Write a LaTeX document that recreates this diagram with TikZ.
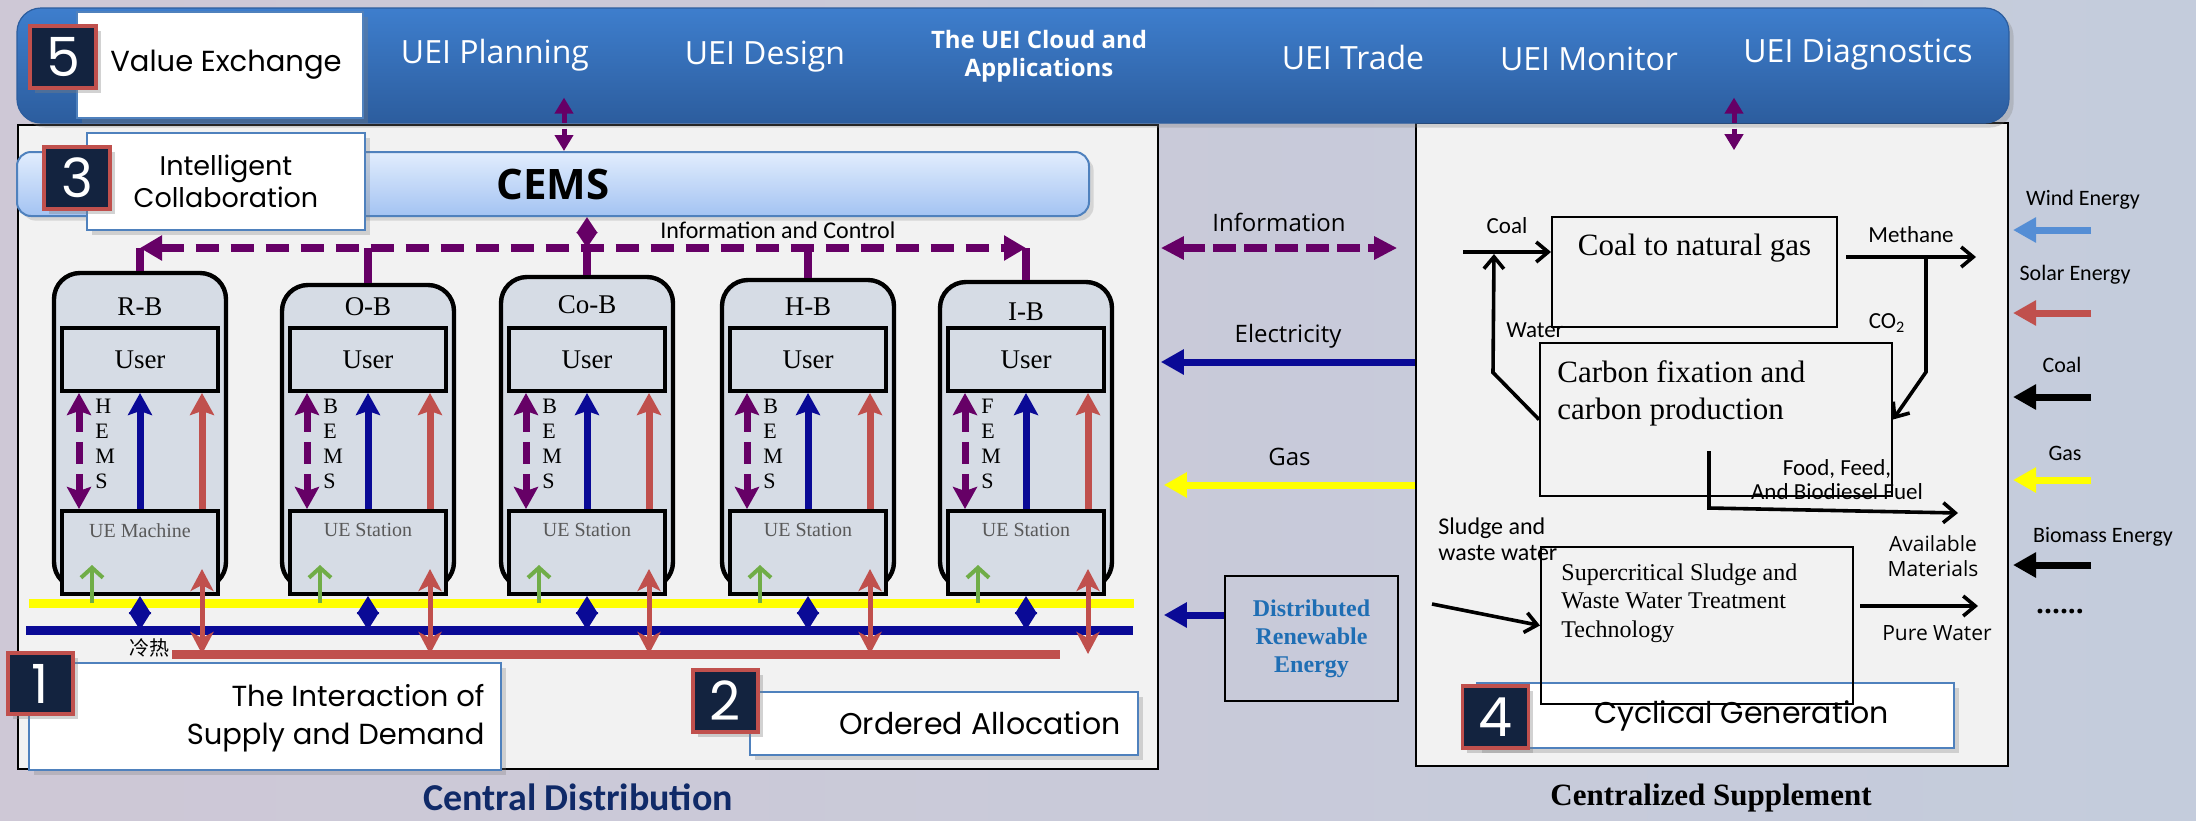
\documentclass[tikz,border=0pt]{standalone}
\usepackage{fontspec}
\setmainfont{Liberation Serif}
\newfontfamily\opens{Open Sans}
\newfontfamily\calib{Carlito}
\newfontfamily\gothic{Poppins}
\newfontfamily\cjkfont{Noto Sans CJK SC}
\usetikzlibrary{arrows.meta,shadows}

\definecolor{bgleft}{RGB}{206,200,214}
\definecolor{bgright}{RGB}{196,204,220}
\definecolor{bartop}{RGB}{62,126,205}
\definecolor{barbot}{RGB}{44,93,158}
\definecolor{panelgray}{RGB}{242,242,242}
\definecolor{cemstop}{RGB}{226,237,253}
\definecolor{cemsbot}{RGB}{163,195,242}
\definecolor{tagblue}{RGB}{79,129,189}
\definecolor{numnavy}{RGB}{19,35,63}
\definecolor{numred}{RGB}{192,80,77}
\definecolor{ctlpurple}{RGB}{102,0,102}
\definecolor{elecblue}{RGB}{10,10,150}
\definecolor{heatred}{RGB}{192,80,77}
\definecolor{gasyellow}{RGB}{255,255,0}
\definecolor{coldgreen}{RGB}{112,173,71}
\definecolor{bldgfill}{RGB}{214,220,229}
\definecolor{uegray}{RGB}{89,89,89}
\definecolor{windblue}{RGB}{85,142,213}
\definecolor{dretext}{RGB}{31,110,180}
\definecolor{cdnavy}{RGB}{16,42,104}

\tikzset{
  panel/.style={draw=black, line width=0.8pt, fill=panelgray, inner sep=0},
  topbar/.style={draw=barbot, line width=0.6pt, top color=bartop, bottom color=barbot,
    rounded corners=12pt, minimum width=996pt, minimum height=57.5pt, inner sep=0,
    drop shadow={opacity=0.3}},
  cemsbar/.style={draw=tagblue, line width=1pt, top color=cemstop, bottom color=cemsbot,
    rounded corners=7pt, minimum width=536pt, minimum height=32pt, inner sep=0,
    font=\opens\bfseries\fontsize{21}{21}\selectfont, drop shadow={opacity=0.25}},
  bartext/.style={text=white, font=\opens\fontsize{16}{18}\selectfont, inner sep=0},
  numbox/.style={draw=numred, line width=1.8pt, fill=numnavy, text=white, inner sep=0,
    font=\gothic\fontsize{27}{27}\selectfont, minimum width=33pt, minimum height=31pt,
    drop shadow={opacity=0.35}},
  tagbox/.style={draw=tagblue, line width=0.8pt, fill=white, inner sep=0,
    drop shadow={opacity=0.3}},
  tagtext/.style={font=\gothic\fontsize{14.5}{19}\selectfont, inner sep=0},
  bldg/.style={draw=black, line width=2.2pt, fill=bldgfill, rounded corners=13pt,
    minimum width=86pt, inner sep=0},
  userbox/.style={draw=black, line width=2pt, fill=bldgfill, minimum width=78pt,
    minimum height=31.5pt, inner sep=0, font=\fontsize{13.5}{15}\selectfont},
  uebox/.style={draw=black, line width=2pt, fill=bldgfill, minimum width=78pt,
    minimum height=41.5pt, inner sep=0},
  uetext/.style={text=uegray, font=\fontsize{10}{11}\selectfont, inner sep=0},
  bname/.style={font=\fontsize{13.5}{15}\selectfont, inner sep=0},
  emstext/.style={font=\fontsize{11}{12.5}\selectfont, align=left, inner sep=0},
  emsarrow/.style={draw=ctlpurple, line width=3.5pt, dash pattern=on 11pt off 5pt,
    >={Stealth[length=11pt,width=12pt,inset=2pt]}, <->},
  elecup/.style={draw=elecblue, line width=3.5pt, -{Stealth[length=11pt,width=12pt,inset=2pt]}},
  heatup/.style={draw=heatred, line width=3.5pt, -{Stealth[length=11pt,width=12pt,inset=2pt]}},
  gasbus/.style={draw=gasyellow, line width=4.5pt},
  elecbus/.style={draw=elecblue, line width=4.5pt},
  heatbus/.style={draw=heatred, line width=4.5pt},
  greenarrow/.style={draw=coldgreen, line width=2pt, -{Straight Barb[length=5pt,width=11pt]}},
  diam/.style={draw=elecblue, line width=1pt, >={Triangle[length=9pt,width=11pt]}, <->},
  heatboth/.style={draw=heatred, line width=2.5pt,
    >={Stealth[length=11pt,width=11.5pt,inset=3pt]}, <->},
  ctlstub/.style={draw=ctlpurple, line width=4pt},
  ctlline/.style={draw=ctlpurple, line width=4pt, dash pattern=on 11.5pt off 6pt,
    >={Triangle[length=11pt,width=12pt]}, <->},
  ctlboth/.style={draw=ctlpurple, line width=3.5pt, >={Triangle[length=8pt,width=10pt]}, <->},
  ctltext/.style={font=\calib\fontsize{12}{12}\selectfont, inner sep=0},
  smallinfo/.style={draw=ctlpurple, line width=2.5pt, dash pattern=on 5pt off 3pt,
    >={Triangle[length=8pt,width=9pt]}, <->},
  infoboth/.style={draw=ctlpurple, line width=4pt, dash pattern=on 11.5pt off 4pt,
    >={Triangle[length=11.5pt,width=11pt]}, <->},
  elecarrow/.style={draw=elecblue, line width=3.5pt, -{Triangle[length=11.5pt,width=12pt]}},
  gasarrow/.style={draw=gasyellow, line width=3.5pt, -{Triangle[length=11.5pt,width=12pt]}},
  midtext/.style={font=\opens\fontsize{12}{12}\selectfont, inner sep=0},
  drebox/.style={draw=black, line width=1pt, minimum width=86.5pt, minimum height=62.5pt,
    inner sep=0, align=center, text=dretext, font=\bfseries\fontsize{12}{14}\selectfont},
  procbox/.style={draw=black, line width=1pt, inner sep=0},
  proctext/.style={font=\fontsize{15.5}{18.5}\selectfont, inner sep=0},
  flow/.style={draw=black, line width=1.8pt, -{Straight Barb[length=6pt,width=10pt]}},
  flowtext/.style={font=\calib\fontsize{11.5}{12}\selectfont, inner sep=0},
  optext/.style={font=\opens\fontsize{10.5}{12.5}\selectfont, inner sep=0},
  legarrow/.style={line width=3.5pt, -{Triangle[length=11.5pt,width=12pt]}},
  legtext/.style={font=\calib\fontsize{11}{12}\selectfont, inner sep=0},
  cdtitle/.style={text=cdnavy, font=\calib\bfseries\fontsize{19}{19}\selectfont, inner sep=0},
  cstitle/.style={font=\bfseries\fontsize{15.5}{16}\selectfont, inner sep=0},
}

\begin{document}
\begin{tikzpicture}[x=0.5pt,y=-0.5pt]
  \useasboundingbox (0,0) rectangle (2196,820);
  \shade[left color=bgleft, right color=bgright] (0,0) rectangle (2196,820);

  % the two panels
  \node[panel, minimum width=570pt, minimum height=322pt] (lpanel) at (588,447) {};
  \node[panel, minimum width=296pt, minimum height=321.5pt] (rpanel) at (1712,444.5) {};

  % top bar
  \node[topbar] (bar) at (1013,65.5) {};
  \node[tagbox, tagtext, minimum width=143pt, minimum height=53pt] (vx) at (220,65) {\hspace*{6pt}Value Exchange};
  \node[numbox] (n5) at (63,57) {5};
  \node[bartext] (plan) at (495,55) {UEI Planning};
  \node[bartext] (design) at (765,57) {UEI Design};
  \node[bartext, align=center, font=\opens\bfseries\fontsize{12}{14}\selectfont] (cloud) at (1039,56) {The UEI Cloud and\\Applications};
  \node[bartext] (trade) at (1353,57) {UEI Trade};
  \node[bartext] (monitor) at (1589,59) {UEI Monitor};
  \node[bartext] (diag) at (1858,55) {UEI Diagnostics};

  % CEMS
  \node[cemsbar] (cems) at (553,184) {CEMS};
  \node[tagbox, tagtext, align=center, font=\gothic\fontsize{13.5}{16}\selectfont,
    minimum width=139pt, minimum height=48.5pt] (ic) at (226,181.5) {Intelligent\\Collaboration};
  \node[numbox] (n3) at (77,178) {3};

  % buses
  \coordinate (gasW) at (29,603);  \coordinate (gasE) at (1134,603);
  \coordinate (elecW) at (26,630); \coordinate (elecE) at (1133,630);
  \coordinate (heatW) at (172,654); \coordinate (heatE) at (1060,654);
  \draw[gasbus] (gasW) -- (gasE);
  \draw[elecbus] (elecW) -- (elecE);
  \draw[heatbus] (heatW) -- (heatE);
  \node[font=\cjkfont\fontsize{10}{10}\selectfont, inner sep=0, anchor=east] (coldheat) at (170,648) {冷热};

  % buildings
  \foreach \bx/\by/\ly/\lab/\ems/\ue [count=\i] in
    {54/273/307/R-B/H/UE Machine, 282/285/307/O-B/B/UE Station, 501/277/305/Co-B/B/UE Station,
     722/280/307/H-B/B/UE Station, 940/282/312/I-B/F/UE Station} {
    \node[bldg, minimum height={(588-\by)*0.5pt}] (b\i) at ({\bx+86},{(\by+588)/2}) {};
    \node[bname] (lb\i) at ({\bx+86},\ly) {\lab};
    \node[userbox] (u\i) at ({\bx+86},359.5) {User};
    \node[uebox, label={[uetext,anchor=north,yshift=-7pt]north:\ue}] (e\i) at ({\bx+86},552.5) {};
    \draw[emsarrow] ([xshift=9.5pt]u\i.south west) -- ([xshift=9.5pt]e\i.north west);
    \draw[elecup] (e\i.north) -- (u\i.south);
    \draw[heatup] ([xshift=-9pt]e\i.north east) -- ([xshift=-9pt]u\i.south east);
    \node[emstext, anchor=west] (m\i) at ({\bx+41},444) {\ems\\E\\M\\S};
    \draw[greenarrow] ([xshift=16pt]e\i.south west |- gasW) -- ([xshift=16pt,yshift=15.5pt]e\i.south west);
    \draw[diam] (e\i.south) -- (e\i.south |- elecW);
    \draw[heatboth] ([xshift=-9pt,yshift=13.5pt]e\i.south east) -- ([xshift=-9pt]e\i.south east |- heatW);
  }

  % information and control
  \coordinate (ctlW) at (140,248);
  \foreach \i in {1,...,5}
    \draw[ctlstub] (b\i.north) -- (b\i.north |- ctlW);
  \draw[ctlline] (b1.north |- ctlW) -- (b5.north |- ctlW)
    node[pos=0.72, above=2.5pt, ctltext] (ctllab) {Information and Control};
  \draw[ctlboth] (cems.south -| b3.north) -- (b3.north |- ctlW);

  % tags of the left panel
  \node[tagbox, minimum width=236pt, minimum height=53.5pt,
    label={[tagtext, align=right, anchor=east, xshift=-8.5pt, yshift=-1pt]east:The Interaction of\\Supply and Demand}] (sd) at (265,716.5) {};
  \node[numbox, minimum width=32.5pt, minimum height=30.5pt] (n1) at (40.5,683.5) {1};
  \node[tagbox, minimum width=194pt, minimum height=31.5pt,
    label={[tagtext, font=\gothic\fontsize{15}{19}\selectfont, anchor=east, xshift=-9pt]east:Ordered Allocation}] (oa) at (944,723.5) {};
  \node[numbox, minimum width=32.5pt] (n2) at (725.5,701) {2};

  % links to the top bar
  \draw[smallinfo] ([xshift=5.5pt,yshift=13pt]bar.south -| cems.north) -- ([xshift=5.5pt]cems.north);
  \draw[smallinfo] ([xshift=11pt,yshift=13pt]rpanel.north |- bar.south) -- ([xshift=11pt,yshift=-14pt]rpanel.north);

  % between the panels
  \coordinate (rowE) at (1300,362);
  \coordinate (rowG) at (1300,485);
  \coordinate (rowD) at (1300,615);
  \draw[infoboth] ([xshift=1pt]lpanel.east |- ctlW) -- ([xshift=-9pt]rpanel.west |- ctlW)
    node[midway, above=6pt, midtext] (infolab) {Information};
  \draw[elecarrow] (rpanel.west |- rowE) -- ([xshift=1pt]lpanel.east |- rowE)
    node[midway, above=5pt, midtext] (eleclab) {Electricity};
  \draw[gasarrow] (rpanel.west |- rowG) -- ([xshift=2.5pt]lpanel.east |- rowG)
    node[midway, above=8pt, midtext] (gaslab) {Gas};
  \node[drebox] (dre) at (1311.5,638.5) {Distributed\\Renewable\\Energy};
  \draw[elecarrow] (dre.west |- rowD) -- ([xshift=2.5pt]lpanel.east |- rowD);

  % right panel
  \node[tagbox, tagtext, font=\gothic\fontsize{15}{19}\selectfont, minimum width=238.5pt, minimum height=32.5pt] (cg) at (1715.5,715.5) {\hspace*{26pt}Cyclical Generation};
  \node[numbox] (n4) at (1495.5,717) {4};
  \node[procbox, minimum width=142.5pt, minimum height=55pt,
    label={[proctext, anchor=north, yshift=-9pt]north:Coal to natural gas}] (cng) at (1694.5,272) {};
  \node[procbox, minimum width=176pt, minimum height=76.5pt,
    label={[proctext, align=left, anchor=north west, xshift=9pt, yshift=-9pt]north west:Carbon fixation and\\carbon production}] (cfx) at (1716,419.5) {};
  \node[procbox, minimum width=156pt, minimum height=78.5pt,
    label={[proctext, font=\fontsize{12}{14.25}\selectfont, align=left, anchor=north west, xshift=10.5pt, yshift=-8.5pt]north west:Supercritical Sludge and\\Waste Water Treatment\\Technology}] (scw) at (1697,625.5) {};

  \coordinate (coalin) at (1463,252);
  \draw[flow] (coalin) -- (coalin -| cng.west) node[midway, above=8.5pt, flowtext] (coallab) {Coal};
  \coordinate (methout) at (1976,257);
  \draw[flow] ([xshift=4pt]cng.east |- methout) -- (methout)
    node[midway, above=6.5pt, flowtext] (methlab) {Methane};
  \draw[flow] ([xshift=44pt]cng.east |- methout) -- ++(0,115) -- (cfx.east);
  \node[flowtext] (co2) at (1887,323) {CO\textsubscript{2}};
  \coordinate (wtop) at (1494,254);
  \draw[flow] (cfx.west) -- ++(-46,-47) -- (wtop);
  \node[flowtext] (water) at (1535,330) {Water};
  \coordinate (foodst) at (1709,451);
  \draw[flow] (foodst) -- ++(0,57) -- ++(249,5);
  \node[flowtext, align=center] (food) at (1837,480) {Food, Feed,\\And Biodiesel Fuel};
  \coordinate (sludge) at (1432,604);
  \draw[flow] (sludge) -- (scw.west);
  \node[flowtext, font=\calib\fontsize{12}{13}\selectfont, align=left, anchor=west] (sludgelab) at (1438,539) {Sludge and\\waste water};
  \coordinate (pwout) at (1978,606);
  \draw[flow] ([xshift=3pt]scw.east |- pwout) -- (pwout);
  \node[optext] (pw) at (1937,633) {Pure Water};
  \node[optext, align=center] (am) at (1933,556.5) {Available\\Materials};

  % inputs on the right
  \foreach \y/\c/\txt/\tx/\ty [count=\k] in
    {230/windblue/Wind Energy/2083/200, 313/heatred/Solar Energy/2075/275,
     397/black/Coal/2062/365, 480/gasyellow/Gas/2065/453, 565/black/Biomass Energy/2103/537} {
    \coordinate (ls\k) at (2091,\y);
    \draw[legarrow, draw=\c] (ls\k) -- ++(-78,0);
    \node[legtext] (lt\k) at (\tx,\ty) {\txt};
  }
  \node[font=\opens\bfseries\fontsize{14}{14}\selectfont, inner sep=0] (more) at (2060,612) {......};

  % titles
  \node[cdtitle] (cd) at (578,797) {Central Distribution};
  \node[cstitle] (cs) at (1711,798) {Centralized Supplement};
\end{tikzpicture}
\end{document}
